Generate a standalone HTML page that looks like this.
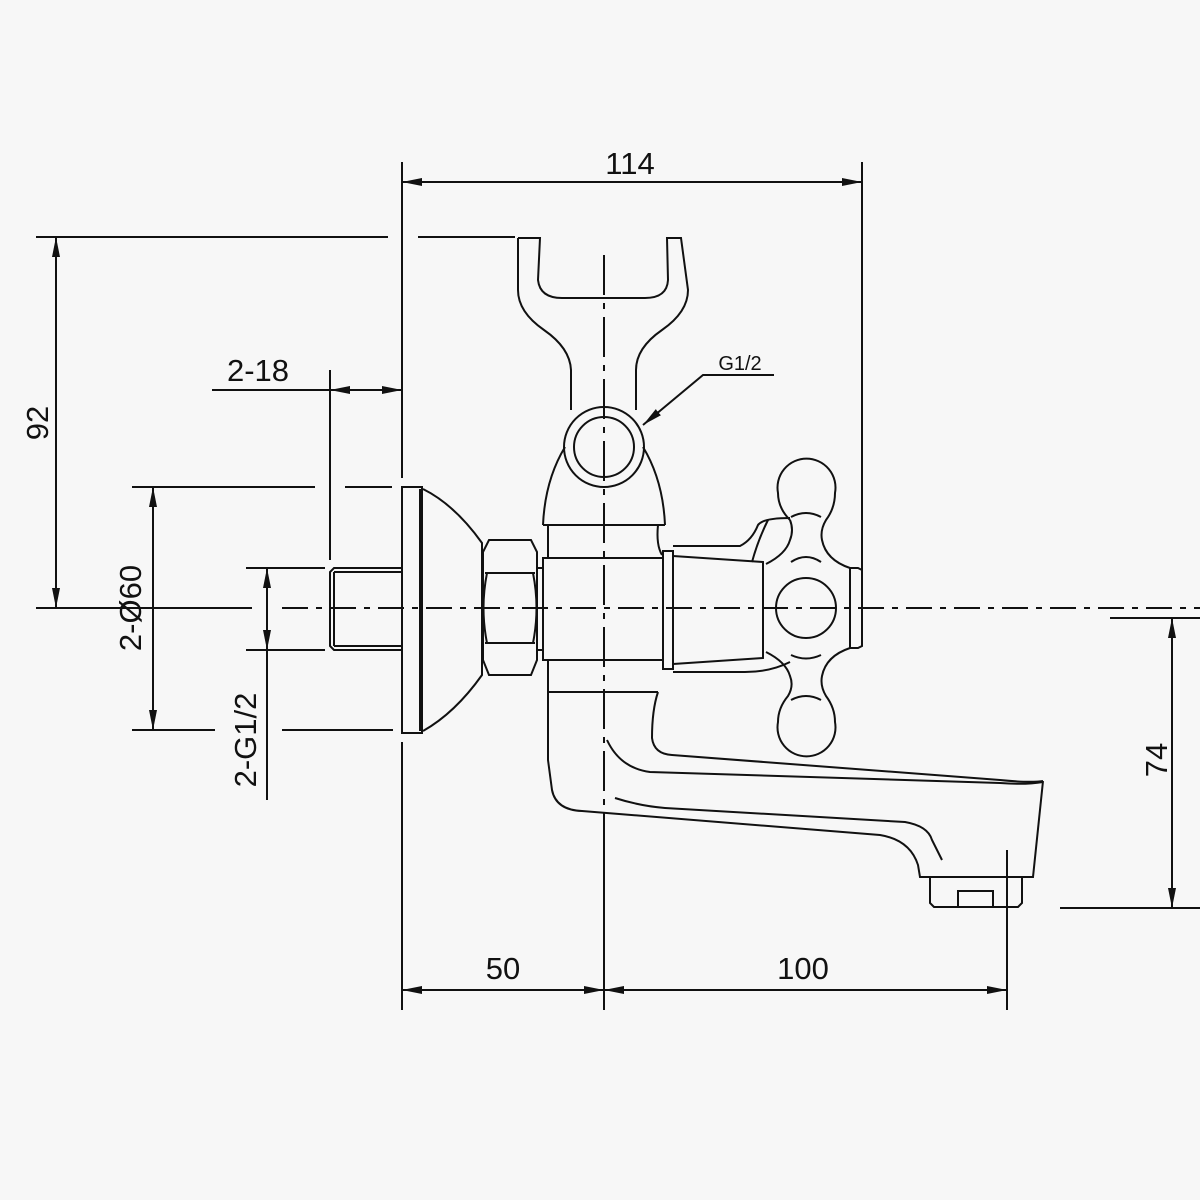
<!DOCTYPE html>
<html><head><meta charset="utf-8"><style>
html,body{margin:0;padding:0;background:#f7f7f7}
svg{display:block}
text{font-family:"Liberation Sans",sans-serif;fill:#111}
</style></head><body>
<svg width="1200" height="1200" viewBox="0 0 1200 1200" xmlns="http://www.w3.org/2000/svg">
<rect width="1200" height="1200" fill="#f7f7f7"/>
<defs>
<marker id="a" viewBox="0 0 20 8" refX="20" refY="4" markerWidth="20" markerHeight="8" markerUnits="userSpaceOnUse" orient="auto-start-reverse"><path d="M0,0 L20,4 L0,8 z" fill="#111"/></marker>
</defs>
<g stroke="#111" stroke-width="2" fill="none">
<line x1="402" y1="162" x2="402" y2="478"/>
<line x1="402" y1="742" x2="402" y2="1010"/>
<line x1="862" y1="162" x2="862" y2="606"/>
<line x1="36" y1="237" x2="388" y2="237"/>
<line x1="418" y1="237" x2="515" y2="237"/>
<line x1="132" y1="487" x2="315" y2="487"/>
<line x1="345" y1="487" x2="392" y2="487"/>
<line x1="132" y1="730" x2="215" y2="730"/>
<line x1="282" y1="730" x2="393" y2="730"/>
<line x1="246" y1="568" x2="325" y2="568"/>
<line x1="246" y1="650" x2="325" y2="650"/>
<line x1="212" y1="390" x2="402" y2="390"/>
<line x1="330" y1="370" x2="330" y2="560"/>
<line x1="604" y1="850" x2="604" y2="1010"/>
<line x1="1007" y1="850" x2="1007" y2="1010"/>
<line x1="1110" y1="618" x2="1200" y2="618"/>
<line x1="1060" y1="908" x2="1200" y2="908"/>
<line x1="267" y1="650" x2="267" y2="800"/>
<line x1="36" y1="608" x2="252" y2="608"/>
<line x1="282" y1="608" x2="1200" y2="608" stroke-dasharray="26,8,6,8"/>
<line x1="604" y1="255" x2="604" y2="1010" stroke-dasharray="40,8,6,8"/>
<line x1="402" y1="182" x2="862" y2="182" marker-start="url(#a)" marker-end="url(#a)"/>
<line x1="56" y1="237" x2="56" y2="608" marker-start="url(#a)" marker-end="url(#a)"/>
<line x1="153" y1="487" x2="153" y2="730" marker-start="url(#a)" marker-end="url(#a)"/>
<line x1="267" y1="568" x2="267" y2="650" marker-start="url(#a)" marker-end="url(#a)"/>
<line x1="330" y1="390" x2="402" y2="390" marker-start="url(#a)" marker-end="url(#a)"/>
<line x1="402" y1="990" x2="604" y2="990" marker-start="url(#a)" marker-end="url(#a)"/>
<line x1="604" y1="990" x2="1007" y2="990" marker-start="url(#a)" marker-end="url(#a)"/>
<line x1="1172" y1="618" x2="1172" y2="908" marker-start="url(#a)" marker-end="url(#a)"/>
<polyline points="774,375 703,375 643,425" marker-end="url(#a)"/>

<path d="M518,238 H540 L538,280 Q540,298 562,298 H645 Q667,298 668,280 L667,238 H681 L688,290 Q688,312 662,330 Q636,348 636,370 V410"/>
<path d="M518,238 L518,290 Q518,312 544,330 Q570,348 571,370 V410"/>
<circle cx="604" cy="447" r="40"/>
<circle cx="604" cy="447" r="30"/>
<path d="M543,525 Q545,480 565,447"/>
<path d="M665,525 Q663,480 643,447"/>
<line x1="543" y1="525" x2="665" y2="525"/>
<line x1="548" y1="525" x2="548" y2="558"/>
<path d="M658,525 Q656,545 662,555"/>
<rect x="543" y="558" width="120" height="102"/>
<line x1="548" y1="660" x2="548" y2="692"/>
<line x1="548" y1="692" x2="658" y2="692"/>
<path d="M489,540 H531 L537,552 V660 L531,675 H489 L483,660 V552 Z"/>
<line x1="485" y1="573" x2="535" y2="573"/>
<line x1="485" y1="643" x2="535" y2="643"/>
<path d="M487,573 Q480,608 487,643"/>
<path d="M533,573 Q540,608 533,643"/>
<rect x="537" y="568" width="6" height="82"/>
<rect x="402" y="487" width="20" height="246"/>
<line x1="420" y1="489" x2="420" y2="731"/>
<path d="M423,489 Q455,505 482,543 V675 Q455,713 423,731"/>
<path d="M402,568 H334 L330,572 V646 L334,650 H402"/>
<line x1="334" y1="572" x2="402" y2="572"/>
<line x1="334" y1="646" x2="402" y2="646"/>
<line x1="334" y1="572" x2="334" y2="646"/>
<rect x="663" y="551" width="10" height="118"/>
<path d="M673,546 H740 Q752,540 758,525 Q763,518 790,518"/>
<path d="M673,672 H745 Q770,672 790,662"/>
<path d="M673,556 L763,562 V658 L673,664"/>
<path d="M752,562 Q758,540 768,520"/>
<circle cx="806" cy="608" r="30"/>
<path d="M790,520 Q778,508 778,493 A29,29 0 1 1 835,493 Q835,508 826,520 Q820,530 822,540 Q826,560 850,568 H858 L862,570 V646 L858,648 H850 Q826,656 822,676 Q820,686 826,696 Q835,708 835,722 A29,29 0 1 1 778,722 Q778,708 788,696 Q794,686 790,676 Q786,662 766,652"/>
<path d="M766,564 Q786,554 790,540 Q794,530 790,520"/>
<path d="M791,517 Q806,509 821,517"/>
<path d="M791,562 Q806,552 821,562"/>
<path d="M791,655 Q806,662 821,655"/>
<path d="M791,700 Q806,692 821,700"/>
<line x1="850" y1="568" x2="850" y2="648"/>
<path d="M548,692 V760 L552,790 Q556,810 582,811 L880,835 Q910,840 918,865 L920,877 H1033 L1043,781"/>
<path d="M658,692 Q652,710 652,738 Q654,754 672,755 L1000,780 Q1030,783 1043,781"/>
<path d="M607,740 Q620,768 650,772 L1000,783 Q1025,785 1043,782"/>
<path d="M615,798 Q640,806 665,808 L905,822 Q928,826 932,840 L942,860"/>
<path d="M930,877 V903 L934,907 H1018 L1022,903 V877"/>
<rect x="958" y="891" width="35" height="16"/>
</g>
<text x="630" y="174" font-size="31" text-anchor="middle">114</text>
<text x="258" y="381" font-size="31" text-anchor="middle">2-18</text>
<text x="503" y="979" font-size="31" text-anchor="middle">50</text>
<text x="803" y="979" font-size="31" text-anchor="middle">100</text>
<text x="740" y="370" font-size="20" text-anchor="middle">G1/2</text>
<text transform="translate(48,423) rotate(-90)" font-size="31" text-anchor="middle">92</text>
<text transform="translate(141,608) rotate(-90)" font-size="31" text-anchor="middle">2-Ø60</text>
<text transform="translate(256,740) rotate(-90)" font-size="31" text-anchor="middle">2-G1/2</text>
<text transform="translate(1167,760) rotate(-90)" font-size="31" text-anchor="middle">74</text>
</svg>
</body></html>
